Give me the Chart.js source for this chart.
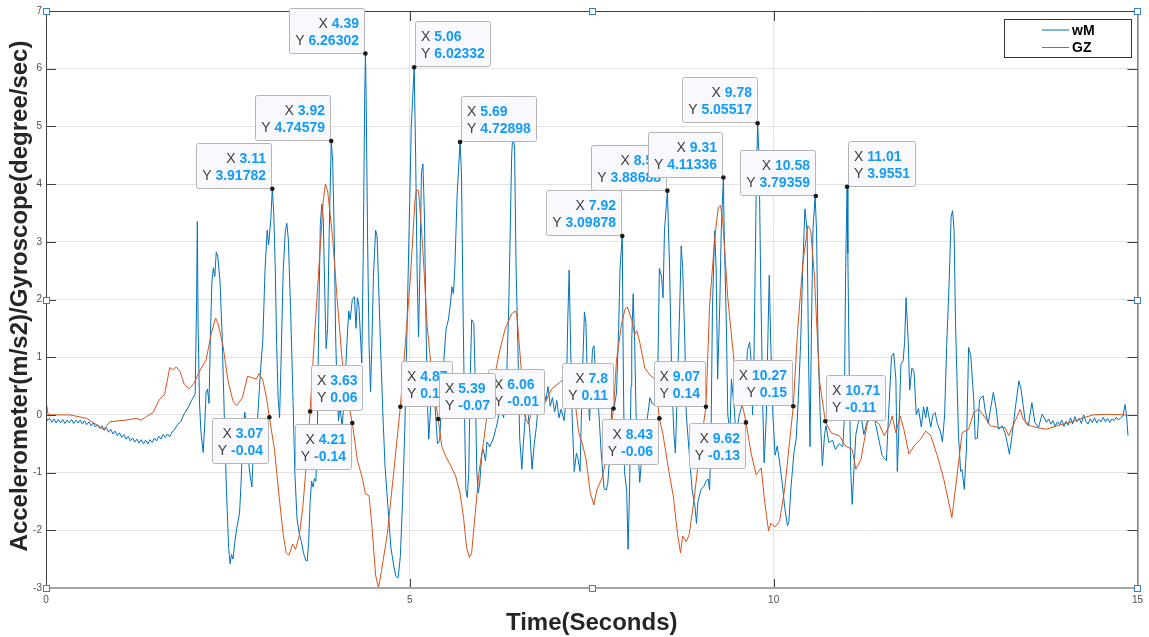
<!DOCTYPE html>
<html>
<head>
<meta charset="utf-8">
<title>wM / GZ</title>
<script src="https://cdn.jsdelivr.net/npm/chart.js@4/dist/chart.umd.min.js"></script>
<style>
  html, body { margin: 0; padding: 0; background: #fff; }
  #wrap { width: 1149px; height: 637px; position: relative; }
</style>
</head>
<body>
<div id="wrap"><canvas id="chart-sinais"></canvas></div>
<script>
// Valores: [tempo (s), valor]
const wmPoints = [
  [0,-0.02],[0.02,-0.1],[0.05,-0.06],[0.08,-0.13],[0.11,-0.07],[0.14,-0.14],[0.17,-0.08],[0.2,-0.14],
  [0.23,-0.08],[0.26,-0.15],[0.29,-0.09],[0.32,-0.14],[0.35,-0.08],[0.38,-0.15],[0.41,-0.09],[0.44,-0.14],
  [0.47,-0.09],[0.5,-0.16],[0.53,-0.1],[0.56,-0.17],[0.59,-0.12],[0.62,-0.19],[0.65,-0.14],[0.68,-0.21],
  [0.71,-0.17],[0.74,-0.24],[0.77,-0.19],[0.8,-0.27],[0.83,-0.22],[0.86,-0.3],[0.89,-0.25],[0.92,-0.33],
  [0.95,-0.28],[0.98,-0.36],[1.01,-0.31],[1.04,-0.39],[1.07,-0.34],[1.1,-0.42],[1.13,-0.37],[1.16,-0.45],
  [1.19,-0.4],[1.22,-0.47],[1.25,-0.42],[1.28,-0.49],[1.31,-0.43],[1.34,-0.5],[1.37,-0.44],[1.4,-0.5],
  [1.43,-0.43],[1.46,-0.48],[1.49,-0.4],[1.52,-0.45],[1.55,-0.37],[1.58,-0.42],[1.61,-0.34],[1.64,-0.39],
  [1.67,-0.33],[1.7,-0.38],[1.73,-0.3],[1.76,-0.27],[1.8,-0.18],[1.85,-0.12],[1.9,0.02],[1.95,0.12],
  [2.0,0.25],[2.05,0.36],[2.07,2.0],[2.08,3.35],[2.09,1.6],[2.11,0.2],[2.13,-0.3],[2.16,-0.65],
  [2.18,-0.2],[2.2,0.38],[2.22,0.45],[2.24,0.2],[2.26,1.4],[2.28,2.3],[2.30,2.55],[2.32,2.4],
  [2.34,2.82],[2.36,2.75],[2.39,2.35],[2.42,1.4],[2.45,0.0],[2.48,-1.3],[2.51,-2.3],[2.53,-2.58],
  [2.55,-2.42],[2.57,-2.5],[2.60,-2.15],[2.63,-1.9],[2.66,-1.7],[2.68,-1.2],[2.70,-0.5],[2.73,0.05],
  [2.75,-0.1],[2.77,-0.65],[2.80,-1.0],[2.83,-1.25],[2.85,-0.6],[2.87,-0.3],[2.89,-0.45],[2.92,0.2],
  [2.95,0.8],[2.98,1.3],[3.01,2.5],[3.04,3.2],[3.06,2.95],[3.09,3.4],[3.11,3.918],[3.13,3.5],
  [3.15,2.6],[3.17,1.2],[3.19,0.3],[3.21,-0.05],[3.23,0.9],[3.26,2.5],[3.29,3.2],[3.31,3.32],
  [3.33,3.05],[3.36,1.9],[3.39,0.5],[3.42,-1.0],[3.45,-1.8],[3.48,-2.05],[3.51,-2.2],[3.54,-2.4],
  [3.57,-2.52],[3.59,-2.53],[3.61,-2.2],[3.63,-1.5],[3.65,-1.15],[3.67,-1.25],[3.69,-1.1],[3.71,-1.15],
  [3.73,-0.2],[3.75,1.8],[3.77,3.3],[3.79,3.65],[3.81,3.4],[3.83,2.2],[3.85,1.15],[3.87,1.5],
  [3.89,3.0],[3.92,4.746],[3.94,4.4],[3.96,3.2],[3.98,1.4],[4.00,0.4],[4.02,-0.1],[4.04,0.15],
  [4.07,-0.2],[4.10,0.3],[4.13,1.1],[4.16,1.8],[4.18,1.65],[4.21,2.0],[4.24,2.05],[4.26,1.5],
  [4.28,2.03],[4.30,1.9],[4.32,1.4],[4.34,0.9],[4.36,2.8],[4.38,5.5],[4.39,6.263],[4.40,5.5],
  [4.42,3.0],[4.44,1.2],[4.46,0.4],[4.48,1.3],[4.50,2.4],[4.53,3.2],[4.55,3.1],[4.57,2.3],
  [4.60,1.1],[4.63,0.0],[4.66,-0.9],[4.70,-1.6],[4.74,-2.3],[4.78,-2.62],[4.81,-2.8],[4.84,-2.82],
  [4.87,-2.45],[4.90,-1.5],[4.93,-0.3],[4.96,1.4],[4.99,3.2],[5.02,5.0],[5.06,6.023],[5.08,4.5],
  [5.10,2.5],[5.12,1.35],[5.14,2.6],[5.16,4.2],[5.18,4.35],[5.20,3.5],[5.22,1.8],[5.24,0.3],
  [5.26,-0.42],[5.29,0.2],[5.32,0.5],[5.35,0.1],[5.38,-0.5],[5.41,-0.45],[5.44,0.3],[5.47,1.0],
  [5.50,1.5],[5.53,1.65],[5.56,1.95],[5.58,2.22],[5.60,2.1],[5.62,2.6],[5.65,3.8],[5.69,4.729],
  [5.71,4.2],[5.73,2.0],[5.75,0.2],[5.77,-1.3],[5.79,-1.43],[5.81,-1.0],[5.83,0.6],[5.85,1.65],
  [5.88,1.58],[5.90,0.5],[5.92,-0.98],[5.94,-1.35],[5.96,-1.2],[5.99,-0.66],[6.01,-0.6],[6.04,-0.8],
  [6.06,-0.47],[6.10,-0.55],[6.15,-0.4],[6.20,-0.15],[6.24,0.11],[6.29,-0.05],[6.33,0.62],[6.36,1.9],
  [6.38,3.2],[6.40,4.5],[6.42,4.95],[6.44,4.6],[6.46,2.6],[6.49,0.9],[6.51,-0.4],[6.54,-0.94],
  [6.56,-0.5],[6.59,0.0],[6.62,0.1],[6.65,-0.3],[6.68,-0.94],[6.71,-0.5],[6.74,-0.2],[6.77,0.27],
  [6.80,0.1],[6.84,0.43],[6.87,0.25],[6.90,0.49],[6.93,0.15],[6.96,0.3],[6.99,0.05],[7.02,0.25],
  [7.05,-0.05],[7.08,0.1],[7.12,-0.1],[7.15,0.3],[7.17,1.6],[7.19,2.51],[7.21,1.2],[7.23,0.0],
  [7.26,-0.98],[7.29,-0.66],[7.31,-0.75],[7.34,-0.98],[7.37,0.6],[7.40,1.78],[7.42,1.6],[7.44,0.62],
  [7.47,-0.1],[7.51,1.13],[7.53,1.2],[7.56,0.6],[7.60,0.0],[7.63,-0.66],[7.67,-1.28],[7.70,-1.3],
  [7.72,-1.2],[7.75,-0.66],[7.78,0.24],[7.81,0.15],[7.84,0.37],[7.87,1.5],[7.89,2.55],[7.92,3.099],
  [7.93,1.3],[7.95,-0.98],[7.98,-1.3],[8.00,-2.33],[8.02,-1.3],[8.04,0.5],[8.05,1.3],[8.07,2.1],
  [8.09,1.26],[8.11,0.0],[8.14,-0.66],[8.16,-1.17],[8.18,-0.85],[8.20,-0.55],[8.23,-0.34],[8.27,0.0],
  [8.30,0.3],[8.33,0.2],[8.37,0.17],[8.41,0.88],[8.43,2.54],[8.46,2.4],[8.48,2.03],[8.50,3.19],
  [8.54,3.887],[8.57,2.54],[8.60,0.62],[8.63,-0.34],[8.65,-0.66],[8.68,0.6],[8.71,1.9],[8.73,2.93],
  [8.75,2.54],[8.78,1.26],[8.80,0.0],[8.84,-0.66],[8.88,-1.3],[8.92,-1.6],[8.94,-1.88],[8.96,-1.5],
  [9.00,-1.3],[9.04,-1.24],[9.07,-1.15],[9.10,-1.11],[9.12,-1.3],[9.14,-0.34],[9.16,1.9],[9.19,3.19],
  [9.21,2.54],[9.23,0.62],[9.26,1.9],[9.28,3.19],[9.31,4.113],[9.32,3.19],[9.35,1.58],[9.37,0.0],
  [9.40,-0.3],[9.42,0.62],[9.46,0.1],[9.48,-0.34],[9.53,0.0],[9.58,0.24],[9.62,0.62],[9.64,1.13],
  [9.67,1.26],[9.69,0.94],[9.71,0.0],[9.73,1.0],[9.76,3.83],[9.78,5.055],[9.80,4.47],[9.82,2.54],
  [9.85,0.2],[9.87,-0.83],[9.90,0.0],[9.92,1.26],[9.94,2.42],[9.96,1.26],[9.99,0.0],[10.02,-0.7],
  [10.05,-0.54],[10.08,-0.8],[10.12,-1.2],[10.15,-1.58],[10.19,-1.92],[10.21,-1.85],[10.24,-1.23],[10.28,-0.65],
  [10.31,-0.42],[10.34,0.3],[10.37,1.2],[10.40,2.54],[10.43,3.57],[10.46,3.19],[10.48,1.0],[10.50,-0.55],
  [10.52,1.5],[10.54,3.19],[10.57,3.794],[10.59,3.19],[10.61,1.26],[10.64,0.0],[10.67,-0.88],[10.70,-0.34],
  [10.72,-0.19],[10.76,-0.48],[10.81,-0.44],[10.85,-0.6],[10.90,-0.5],[10.95,-0.55],[10.97,-0.1],[10.99,2.54],
  [11.01,3.955],[11.02,2.8],[11.04,0.62],[11.06,-0.98],[11.08,-1.55],[11.11,-0.8],[11.13,-0.34],[11.16,-0.15],
  [11.20,0.0],[11.24,-0.34],[11.29,-0.1],[11.32,0.24],[11.37,0.11],[11.40,-0.15],[11.45,-0.45],[11.49,-0.7],
  [11.52,-0.75],[11.55,-0.79],[11.58,0.0],[11.62,1.01],[11.65,1.07],[11.68,0.62],[11.70,-0.98],[11.72,-0.3],
  [11.75,0.88],[11.78,0.94],[11.80,1.26],[11.82,2.03],[11.85,1.26],[11.87,0.43],[11.90,0.81],[11.93,0.75],
  [11.96,0.0],[11.99,0.11],[12.03,-0.21],[12.06,0.14],[12.09,-0.05],[12.11,0.14],[12.16,-0.21],[12.19,0.0],
  [12.22,0.04],[12.25,-0.15],[12.29,-0.28],[12.32,-0.47],[12.35,0.0],[12.38,1.26],[12.41,2.22],[12.44,3.44],
  [12.46,3.54],[12.48,3.19],[12.50,1.58],[12.52,0.62],[12.54,-0.34],[12.57,-0.98],[12.59,-0.95],[12.62,-1.29],
  [12.65,-0.6],[12.68,1.17],[12.71,1.02],[12.75,0.27],[12.77,-0.42],[12.80,-0.4],[12.83,0.27],[12.88,0.33],
  [12.91,0.05],[12.95,-0.15],[12.98,0.1],[13.02,0.39],[13.06,0.1],[13.09,-0.25],[13.14,-0.19],[13.18,-0.31],
  [13.21,-0.48],[13.24,-0.68],[13.27,-0.42],[13.32,0.1],[13.37,0.59],[13.40,0.45],[13.43,0.16],[13.46,-0.13],
  [13.50,-0.19],[13.55,0.21],[13.59,-0.13],[13.64,-0.22],[13.69,0.01],[13.72,-0.05],[13.75,-0.13],[13.78,-0.07],
  [13.81,-0.16],[13.84,-0.1],[13.87,-0.2],[13.9,-0.12],[13.93,-0.17],[13.96,-0.09],[13.99,-0.2],[14.02,-0.11],
  [14.05,-0.18],[14.08,-0.05],[14.11,-0.16],[14.14,-0.03],[14.17,-0.12],[14.2,-0.06],[14.23,-0.15],[14.26,0.0],
  [14.29,-0.11],[14.32,-0.16],[14.35,-0.07],[14.38,-0.13],[14.41,-0.05],[14.44,-0.14],[14.47,-0.08],[14.5,-0.12],
  [14.53,-0.04],[14.56,-0.12],[14.59,-0.06],[14.62,-0.13],[14.65,-0.07],[14.68,-0.1],[14.71,-0.04],[14.74,-0.09],
  [14.77,-0.05],[14.8,-0.02],[14.83,0.18],[14.85,0.0],[14.87,-0.36]
];

const gzPoints = [
  [0,0.15],[0.01,0.16],[0.03,0.0],[0.33,0.0],[0.56,-0.06],[0.79,-0.25],[0.88,-0.12],[1.10,-0.09],
  [1.24,-0.06],[1.31,-0.09],[1.38,-0.03],[1.47,0.04],[1.56,0.27],[1.63,0.36],[1.68,0.68],[1.70,0.82],
  [1.74,0.78],[1.79,0.83],[1.84,0.76],[1.90,0.53],[1.97,0.45],[2.04,0.56],[2.11,0.76],[2.20,0.95],
  [2.27,1.4],[2.33,1.68],[2.36,1.60],[2.43,1.22],[2.50,0.6],[2.57,0.24],[2.62,0.16],[2.70,0.3],
  [2.77,0.67],[2.84,0.64],[2.89,0.62],[2.93,0.72],[2.98,0.6],[3.03,0.3],[3.07,-0.04],[3.14,-0.6],
  [3.21,-1.49],[3.26,-2.07],[3.30,-2.39],[3.34,-2.43],[3.39,-2.24],[3.43,-2.33],[3.48,-2.1],[3.53,-1.6],
  [3.58,-0.8],[3.63,0.06],[3.685,1.26],[3.75,2.54],[3.81,3.70],[3.84,4.0],[3.87,3.89],[3.94,3.06],
  [4.00,2.03],[4.07,0.94],[4.14,0.3],[4.21,-0.14],[4.28,-0.79],[4.35,-1.11],[4.39,-1.37],[4.44,-1.40],
  [4.48,-1.94],[4.53,-2.78],[4.57,-3.0],[4.61,-2.71],[4.69,-2.07],[4.78,-0.98],[4.87,0.14],[4.94,1.26],
  [5.01,2.42],[5.07,3.70],[5.09,3.9],[5.12,3.89],[5.17,3.06],[5.24,1.52],[5.31,0.62],[5.39,-0.07],
  [5.44,-0.55],[5.49,-0.71],[5.55,-0.85],[5.63,-1.06],[5.69,-1.35],[5.74,-1.8],[5.78,-2.3],[5.82,-2.47],
  [5.85,-2.39],[5.90,-1.69],[5.95,-1.0],[6.01,-0.5],[6.06,-0.01],[6.10,0.25],[6.17,0.7],[6.24,1.14],
  [6.31,1.49],[6.40,1.75],[6.45,1.80],[6.47,1.75],[6.52,0.97],[6.58,-0.02],[6.63,-0.16],[6.68,0.10],
  [6.77,0.04],[6.86,0.21],[6.95,0.45],[7.06,0.56],[7.15,0.68],[7.22,0.62],[7.27,0.25],[7.32,-0.3],
  [7.37,-0.5],[7.42,-0.75],[7.48,-1.35],[7.53,-1.56],[7.57,-1.3],[7.64,-1.1],[7.71,-0.7],[7.80,0.11],
  [7.84,0.94],[7.91,1.58],[7.96,1.84],[7.99,1.87],[8.05,1.65],[8.09,1.39],[8.12,1.46],[8.16,1.26],
  [8.23,0.81],[8.30,0.69],[8.37,0.62],[8.43,-0.06],[8.48,-0.34],[8.55,-0.9],[8.62,-1.4],[8.68,-2.07],
  [8.72,-2.39],[8.75,-2.1],[8.80,-2.2],[8.84,-2.07],[8.91,-1.43],[8.98,-0.66],[9.07,0.14],[9.12,1.90],
  [9.19,3.06],[9.24,3.6],[9.27,3.63],[9.30,3.38],[9.37,2.03],[9.46,0.88],[9.55,0.30],[9.62,-0.13],
  [9.69,-0.66],[9.76,-1.04],[9.83,-0.92],[9.87,-1.43],[9.93,-2.01],[9.96,-1.88],[10.02,-1.94],[10.08,-1.85],
  [10.15,-1.3],[10.27,0.15],[10.33,1.46],[10.40,2.61],[10.47,3.28],[10.51,3.19],[10.56,2.42],[10.63,0.6],
  [10.71,-0.11],[10.79,-0.31],[10.90,-0.36],[10.99,-0.54],[11.08,-0.6],[11.13,-0.94],[11.20,-0.77],[11.29,-0.13],
  [11.36,-0.05],[11.45,-0.16],[11.52,-0.36],[11.59,-0.19],[11.63,-0.02],[11.68,-0.31],[11.74,-0.02],[11.79,-0.25],
  [11.86,-0.68],[11.93,-0.54],[12.02,-0.42],[12.09,-0.28],[12.16,-0.36],[12.25,-0.71],[12.34,-1.12],[12.45,-1.78],
  [12.52,-1.06],[12.59,-0.31],[12.68,-0.25],[12.75,0.04],[12.82,0.10],[12.89,-0.02],[12.98,-0.19],[13.11,-0.22],
  [13.18,-0.22],[13.23,-0.36],[13.30,-0.16],[13.39,0.1],[13.43,-0.08],[13.53,-0.19],[13.62,-0.22],[13.75,-0.25],
  [13.89,-0.19],[14.07,-0.13],[14.26,-0.05],[14.39,0.0],[14.58,0.01],[14.85,0.0]
];

// Data tips (marcadores com caixa)
const tipX = [3.11, 3.92, 4.39, 5.06, 5.69, 7.92, 8.54, 9.31, 9.78, 10.58, 11.01,
              3.07, 3.63, 4.21, 4.87, 6.06, 5.39, 7.8, 8.43, 9.07, 9.62, 10.27, 10.71];
const tipY = [3.91782, 4.74579, 6.26302, 6.02332, 4.72898, 3.09878, 3.88688, 4.11336, 5.05517, 3.79359, 3.9551,
              -0.04, 0.06, -0.14, 0.14, -0.01, -0.07, 0.11, -0.06, 0.14, -0.13, 0.15, -0.11];
const tipSide = ['nw', 'nw', 'nw', 'ne', 'ne', 'nw', 'nw', 'nw', 'nw', 'nw', 'ne',
                 'sw', 'ne', 'sw', 'ne', 'ne', 'ne', 'nw', 'sw', 'nw', 'sw', 'nw', 'ne'];

const seriesNames = ['wM', 'GZ'];
const xTitle = 'Time(Seconds)';
const yTitle = 'Accelerometer(m/s2)/Gyroscope(degree/sec)';

const FONT = '"Liberation Sans", Arial, Helvetica, sans-serif';

const SinaisChart = {
    chart: null,
    colors: { wM: 'rgb(0,114,189)', GZ: 'rgb(217,83,25)' },

    init: () => {
        const ctx = document.getElementById('chart-sinais');
        SinaisChart.chart = new Chart(ctx, {
            type: 'line',
            data: {
                datasets: [
                    {
                        label: seriesNames[0],
                        data: wmPoints.map(([x, y]) => ({ x, y })),
                        borderColor: SinaisChart.colors.wM,
                        borderWidth: 1,
                        pointRadius: 0,
                        tension: 0,
                        order: 2
                    },
                    {
                        label: seriesNames[1],
                        data: gzPoints.map(([x, y]) => ({ x, y })),
                        borderColor: SinaisChart.colors.GZ,
                        borderWidth: 1,
                        pointRadius: 0,
                        tension: 0,
                        order: 1
                    }
                ]
            },
            options: {
                responsive: true,
                maintainAspectRatio: false,
                animation: false,
                devicePixelRatio: 1,
                layout: { padding: { top: 11, right: 9, left: 0, bottom: 0 } },
                plugins: { legend: { display: false }, tooltip: { enabled: false } },
                scales: {
                    x: {
                        type: 'linear',
                        min: 0,
                        max: 15,
                        ticks: { stepSize: 5, padding: 6, color: '#505050', font: { family: FONT, size: 10 } },
                        grid: { color: '#e3e3e3', drawTicks: false },
                        border: { display: false },
                        afterFit: (s) => { s.height = 49; }
                    },
                    y: {
                        min: -3,
                        max: 7,
                        ticks: { stepSize: 1, padding: 4, color: '#505050', font: { family: FONT, size: 10 } },
                        grid: { color: '#e3e3e3', drawTicks: false },
                        border: { display: false },
                        afterFit: (s) => { s.width = 46; }
                    }
                }
            },
            plugins: [SinaisChart.decor]
        });
    },

    decor: {
        id: 'decor',
        beforeDraw: (chart) => {
            const c = chart.ctx;
            c.save();
            c.fillStyle = '#ffffff';
            c.fillRect(0, 0, chart.width, chart.height);
            c.restore();
        },
        afterDatasetsDraw: (chart) => {
            SinaisChart.drawFrame(chart);
            SinaisChart.drawLegend(chart);
            SinaisChart.drawTips(chart);
            SinaisChart.drawTitles(chart);
        }
    },

    drawFrame: (chart) => {
        const c = chart.ctx;
        const a = chart.chartArea;
        const xs = chart.scales.x, ys = chart.scales.y;
        c.save();
        c.lineWidth = 1;
        c.strokeStyle = '#404040';
        c.beginPath();
        c.moveTo(a.left + 0.5, a.bottom); c.lineTo(a.left + 0.5, a.top + 0.5);
        c.lineTo(a.right + 0.5, a.top + 0.5); c.lineTo(a.right + 0.5, a.bottom);
        c.stroke();

        // ticks internos
        for (let v = -2; v <= 6; v++) {
            const y = Math.round(ys.getPixelForValue(v)) + 0.5;
            c.beginPath();
            c.moveTo(a.left, y); c.lineTo(a.left + 10, y);
            c.moveTo(a.right, y); c.lineTo(a.right - 10, y);
            c.stroke();
        }
        [5, 10].forEach(v => {
            const x = Math.round(xs.getPixelForValue(v)) + 0.5;
            c.beginPath();
            c.moveTo(x, a.top); c.lineTo(x, a.top + 10);
            c.moveTo(x, a.bottom); c.lineTo(x, a.bottom - 9);
            c.stroke();
        });

        // eixo inferior
        c.strokeStyle = '#a6a6a6';
        c.lineWidth = 2;
        c.beginPath();
        c.moveTo(a.left, a.bottom); c.lineTo(a.right + 1, a.bottom);
        c.stroke();

        // alças de seleção
        const midX = (a.left + a.right) / 2, midY = (a.top + a.bottom) / 2;
        const handles = [[a.left, a.top], [a.left, midY], [a.left, a.bottom], [midX, a.top],
                         [midX, a.bottom], [a.right, a.top], [a.right, midY], [a.right, a.bottom]];
        c.lineWidth = 1;
        c.strokeStyle = '#3b82c4';
        c.fillStyle = '#ffffff';
        handles.forEach(([hx, hy]) => {
            const x = Math.round(hx) - 3 + 0.5, y = Math.round(hy) - 3 + 0.5;
            c.fillRect(x, y, 6, 6);
            c.strokeRect(x, y, 6, 6);
        });
        c.restore();
    },

    drawLegend: (chart) => {
        const c = chart.ctx;
        c.save();
        c.fillStyle = '#ffffff';
        c.fillRect(1004, 19, 127, 38);
        c.strokeStyle = '#333333';
        c.lineWidth = 1;
        c.strokeRect(1004.5, 19.5, 127, 38);
        c.font = 'bold 14px ' + FONT;
        c.textBaseline = 'middle';
        c.fillStyle = '#000000';
        const rows = [[seriesNames[0], SinaisChart.colors.wM, 30], [seriesNames[1], SinaisChart.colors.GZ, 47.5]];
        rows.forEach(([name, color, y]) => {
            c.strokeStyle = color;
            c.beginPath();
            c.moveTo(1042, y); c.lineTo(1069, y);
            c.stroke();
            c.fillText(name, 1072, y + 1);
        });
        c.restore();
    },

    drawTips: (chart) => {
        const c = chart.ctx;
        const xs = chart.scales.x, ys = chart.scales.y;
        c.save();
        tipX.forEach((tx, i) => {
            const px = xs.getPixelForValue(tx);
            const py = ys.getPixelForValue(tipY[i]);
            const side = tipSide[i];
            const lines = [['X ', String(tx)], ['Y ', String(tipY[i])]];

            const widths = lines.map(([lab, val]) => {
                c.font = '14px ' + FONT;
                const w1 = c.measureText(lab).width;
                c.font = 'bold 14px ' + FONT;
                return [w1, c.measureText(val).width];
            });
            const maxW = Math.max(...widths.map(w => w[0] + w[1]));
            const W = Math.round(maxW + 11), H = 45;

            let left, top;
            if (side === 'nw') { left = px - 1 - W; top = py - 1 - H; }
            else if (side === 'ne') { left = px + 1; top = py - 1 - H; }
            else { left = px - 1 - W; top = py + 1; }
            left = Math.round(left) + 0.5; top = Math.round(top) + 0.5;

            c.fillStyle = '#f8f8fd';
            c.strokeStyle = '#b5b5b5';
            c.lineWidth = 1;
            c.beginPath();
            c.roundRect(left, top, W, H, 2);
            c.fill();
            c.stroke();

            c.textBaseline = 'alphabetic';
            lines.forEach(([lab, val], k) => {
                const [w1, w2] = widths[k];
                const base = top + 19 + k * 17;
                const x0 = side === 'ne' ? left + 5.5 : left + W - 5.5 - w1 - w2;
                c.font = '14px ' + FONT;
                c.fillStyle = '#404040';
                c.fillText(lab, x0, base);
                c.font = 'bold 14px ' + FONT;
                c.fillStyle = '#129cfa';
                c.fillText(val, x0 + w1, base);
            });

            c.fillStyle = '#1a1a1a';
            c.beginPath();
            c.arc(px, py, 2.3, 0, Math.PI * 2);
            c.fill();
        });
        c.restore();
    },

    drawTitles: (chart) => {
        const c = chart.ctx;
        const a = chart.chartArea;
        c.save();
        c.fillStyle = '#262626';
        c.font = 'bold 24px ' + FONT;
        c.textAlign = 'center';
        c.textBaseline = 'alphabetic';
        c.fillText(xTitle, (a.left + a.right) / 2, 630);
        c.translate(27, 296);
        c.rotate(-Math.PI / 2);
        c.fillText(yTitle, 0, 0);
        c.restore();
    }
};

SinaisChart.init();
</script>
</body>
</html>
